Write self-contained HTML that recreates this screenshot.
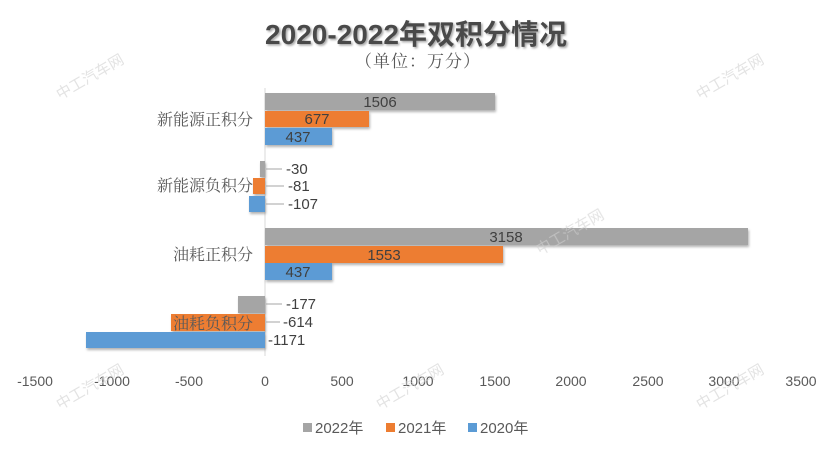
<!DOCTYPE html>
<html><head><meta charset="utf-8"><style>
html,body{margin:0;padding:0;background:#fff;}
svg{display:block;}
</style></head><body>
<svg width="832" height="458" viewBox="0 0 832 458" xmlns="http://www.w3.org/2000/svg">
<defs><filter id="sh" x="-5%" y="-20%" width="110%" height="160%"><feDropShadow dx="1" dy="2" stdDeviation="1.2" flood-color="#000" flood-opacity="0.3"/></filter>
<filter id="ts"><feDropShadow dx="1.5" dy="1.5" stdDeviation="1" flood-color="#000" flood-opacity="0.35"/></filter></defs>
<rect width="832" height="458" fill="#fff"/>
<text x="416" y="44" text-anchor="middle" font-family="Liberation Sans, Noto Sans CJK SC, sans-serif" font-size="28" font-weight="bold" fill="#4a4a4a" filter="url(#ts)">2020-2022年双积分情况</text>
<text x="418" y="67" text-anchor="middle" font-family="Noto Serif CJK SC, serif" font-size="17" fill="#595959" letter-spacing="1">（单位：万分）</text>
<line x1="265" y1="88" x2="265" y2="356" stroke="#d9d9d9" stroke-width="1"/>
<g filter="url(#sh)">
<rect x="265" y="93" width="230" height="17" fill="#a5a5a5"/>
<rect x="265" y="111" width="104" height="16" fill="#ed7d31"/>
<rect x="265" y="128" width="67" height="17" fill="#5b9bd5"/>
<rect x="260" y="161" width="5" height="16" fill="#a5a5a5"/>
<rect x="253" y="178" width="12" height="16" fill="#ed7d31"/>
<rect x="249" y="196" width="16" height="16" fill="#5b9bd5"/>
<rect x="265" y="228" width="483" height="17" fill="#a5a5a5"/>
<rect x="265" y="246" width="238" height="17" fill="#ed7d31"/>
<rect x="265" y="263" width="67" height="17" fill="#5b9bd5"/>
<rect x="238" y="296" width="27" height="17" fill="#a5a5a5"/>
<rect x="171" y="314" width="94" height="17" fill="#ed7d31"/>
<rect x="86" y="332" width="179" height="16" fill="#5b9bd5"/>
</g>
<g stroke="#a6a6a6" stroke-width="1">
<line x1="266" y1="169" x2="282" y2="169"/><line x1="266" y1="186" x2="284" y2="186"/><line x1="266" y1="204" x2="284" y2="204"/>
<line x1="266" y1="304" x2="282" y2="304"/><line x1="266" y1="322" x2="280" y2="322"/>
</g>
<g font-family="Liberation Sans, sans-serif" font-size="15" fill="#404040">
<text x="380" y="107" text-anchor="middle">1506</text>
<text x="317" y="124" text-anchor="middle">677</text>
<text x="298" y="142" text-anchor="middle">437</text>
<text x="286" y="174">-30</text>
<text x="288" y="191">-81</text>
<text x="288" y="209">-107</text>
<text x="506" y="242" text-anchor="middle">3158</text>
<text x="384" y="260" text-anchor="middle">1553</text>
<text x="298" y="277" text-anchor="middle">437</text>
<text x="286" y="309">-177</text>
<text x="283" y="327">-614</text>
<text x="268" y="345">-1171</text>
</g>
<g font-family="Noto Serif CJK SC, serif" font-size="16" fill="#595959" text-anchor="end">
<text x="253" y="125">新能源正积分</text>
<text x="253" y="191">新能源负积分</text>
<text x="253" y="260">油耗正积分</text>
<text x="253" y="329">油耗负积分</text>
</g>
<g font-family="Liberation Sans, sans-serif" font-size="14" fill="#595959" text-anchor="middle">
<text x="35" y="386">-1500</text><text x="112" y="386">-1000</text><text x="189" y="386">-500</text>
<text x="265" y="386">0</text><text x="342" y="386">500</text><text x="418" y="386">1000</text>
<text x="495" y="386">1500</text><text x="571" y="386">2000</text><text x="648" y="386">2500</text>
<text x="724" y="386">3000</text><text x="801" y="386">3500</text>
</g>
<g font-family="Liberation Sans, Noto Sans CJK SC, sans-serif" font-size="15" fill="#595959">
<rect x="303" y="423" width="9" height="9" fill="#a5a5a5"/><text x="315" y="433">2022年</text>
<rect x="386" y="423" width="9" height="9" fill="#ed7d31"/><text x="398" y="433">2021年</text>
<rect x="468" y="423" width="9" height="9" fill="#5b9bd5"/><text x="480" y="433">2020年</text>
</g>
<g font-family="Noto Sans CJK SC, sans-serif" font-size="15" fill="#d0d0d0" opacity="0.6">
<text transform="translate(60,100) rotate(-30)">中工汽车网</text>
<text transform="translate(700,100) rotate(-30)">中工汽车网</text>
<text transform="translate(540,255) rotate(-30)">中工汽车网</text>
<text transform="translate(380,410) rotate(-30)">中工汽车网</text>
<text transform="translate(700,410) rotate(-30)">中工汽车网</text>
<text transform="translate(60,410) rotate(-30)">中工汽车网</text>
</g>
</svg>
</body></html>
